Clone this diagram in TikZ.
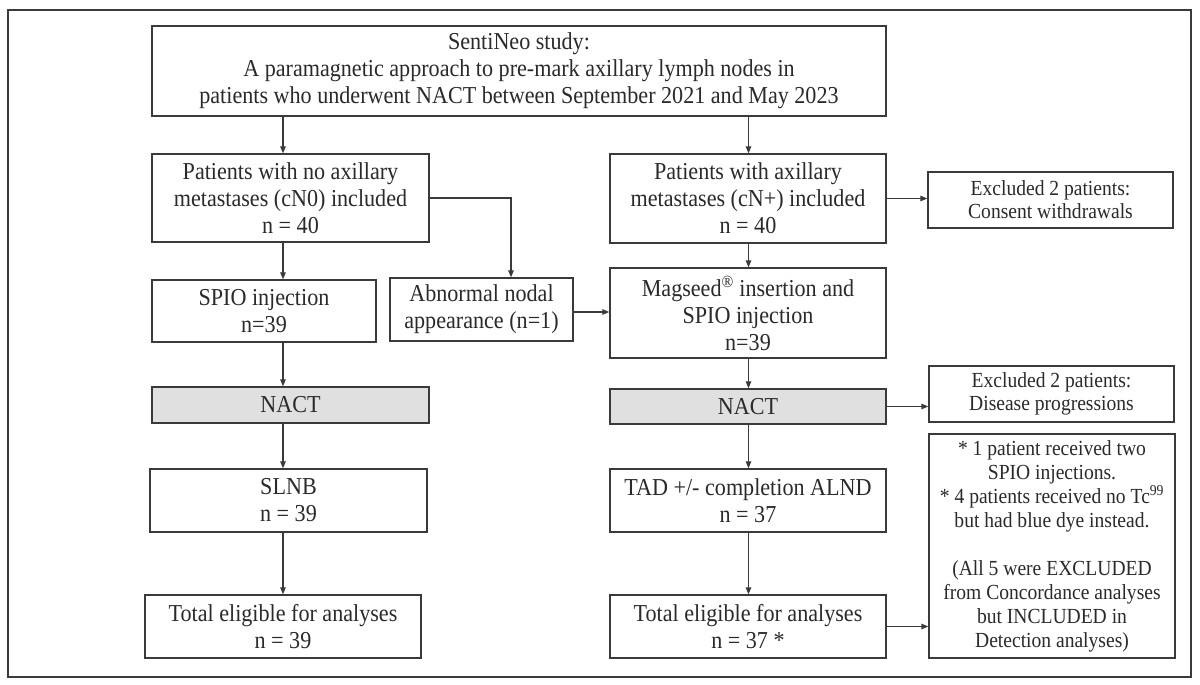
\documentclass[tikz,border=0pt]{standalone}
\usepackage{fontspec}
\setmainfont{Liberation Serif}[FakeStretch=0.91]
\usetikzlibrary{arrows.meta}
\definecolor{linec}{HTML}{3A3A3A}
\definecolor{textc}{HTML}{2A2A2A}
\definecolor{nactfill}{HTML}{E0E0E0}
\begin{document}
\begin{tikzpicture}[x=1pt,y=-1pt,
  box/.style={draw=linec, line width=1.3pt, inner sep=0pt, align=center, text=textc,
    font={\fontsize{24.3}{27}\selectfont}},
  smallbox/.style={box, font={\fontsize{21.5}{23}\selectfont}},
  notebox/.style={box, font={\fontsize{21.5}{24}\selectfont}},
  greybox/.style={box, fill=nactfill},
  arr/.style={draw=linec, line width=1.3pt, -{Triangle[length=7pt,width=5.5pt]}}]
\fill[white] (0,0) rectangle (1200,685);
\useasboundingbox (0,0) rectangle (1200,685);
\draw[line width=2.5pt, draw=linec] (8,10) rectangle (1191,677);

\node[box, minimum width=734, minimum height=90] (top) at (519,71)
  {SentiNeo study:\\A paramagnetic approach to pre-mark axillary lymph nodes in\\patients who underwent NACT between September 2021 and May 2023};
\node[box, minimum width=277, minimum height=88] (cn0) at (290.5,198)
  {Patients with no axillary\\metastases (cN0) included\\n = 40};
\node[box, minimum width=276, minimum height=89] (cnp) at (748,198.5)
  {Patients with axillary\\metastases (cN+) included\\n = 40};
\node[smallbox, minimum width=245, minimum height=56] (ex1) at (1050.5,200)
  {Excluded 2 patients:\\Consent withdrawals};
\node[box, minimum width=224, minimum height=62] (spio) at (264,311)
  {SPIO injection\\n=39};
\node[box, minimum width=183, minimum height=63] (abn) at (481.5,309.5)
  {Abnormal nodal\\appearance (n=1)};
\node[box, minimum width=276, minimum height=90] (mag) at (748,313)
  {Magseed\textsuperscript{®} insertion and\\SPIO injection\\n=39};
\node[greybox, minimum width=277, minimum height=36] (nactL) at (290.5,405) {NACT};
\node[greybox, minimum width=276, minimum height=35] (nactR) at (748,406.5) {NACT};
\node[smallbox, minimum width=245, minimum height=56] (ex2) at (1051.5,394)
  {Excluded 2 patients:\\Disease progressions};
\node[box, minimum width=277, minimum height=63] (slnb) at (288.5,500.5)
  {SLNB\\n = 39};
\node[box, minimum width=276, minimum height=63] (tad) at (748,500.5)
  {TAD +/- completion ALND\\n = 37};
\node[box, minimum width=276, minimum height=63] (totL) at (283,626.5)
  {Total eligible for analyses\\n = 39};
\node[box, minimum width=276, minimum height=63] (totR) at (748,626.5)
  {Total eligible for analyses\\n = 37 *};
\node[notebox, minimum width=246, minimum height=224] (foot) at (1052,546)
  {* 1 patient received two\\SPIO injections.\\* 4 patients received no Tc\textsuperscript{99}\\but had blue dye instead.\\[24pt](All 5 were EXCLUDED\\from Concordance analyses\\but INCLUDED in\\Detection analyses)};

\coordinate (xL) at (283,0);
\coordinate (xR) at (748.5,0);
\coordinate (xA) at (511,0);

\draw[arr] (top.south -| xL) -- (cn0.north -| xL);
\draw[arr] (top.south -| xR) -- (cnp.north -| xR);
\draw[arr] (cn0.south -| xL) -- (spio.north -| xL);
\draw[arr] (spio.south -| xL) -- (nactL.north -| xL);
\draw[arr] (nactL.south -| xL) -- (slnb.north -| xL);
\draw[arr] (slnb.south -| xL) -- (totL.north -| xL);
\draw[arr] (cnp.south -| xR) -- (mag.north -| xR);
\draw[arr] (mag.south -| xR) -- (nactR.north -| xR);
\draw[arr] (nactR.south -| xR) -- (tad.north -| xR);
\draw[arr] (tad.south -| xR) -- (totR.north -| xR);
\draw[arr] (cnp.east) -- (cnp.east -| ex1.west);
\draw[arr] (cn0.east) -| (abn.north -| xA);
\draw[arr] ([yshift=-2.5pt]abn.east) -- ([yshift=-2.5pt]abn.east -| mag.west);
\draw[arr] (nactR.east) -- (nactR.east -| ex2.west);
\draw[arr] (totR.east) -- (totR.east -| foot.west);
\end{tikzpicture}
\end{document}
